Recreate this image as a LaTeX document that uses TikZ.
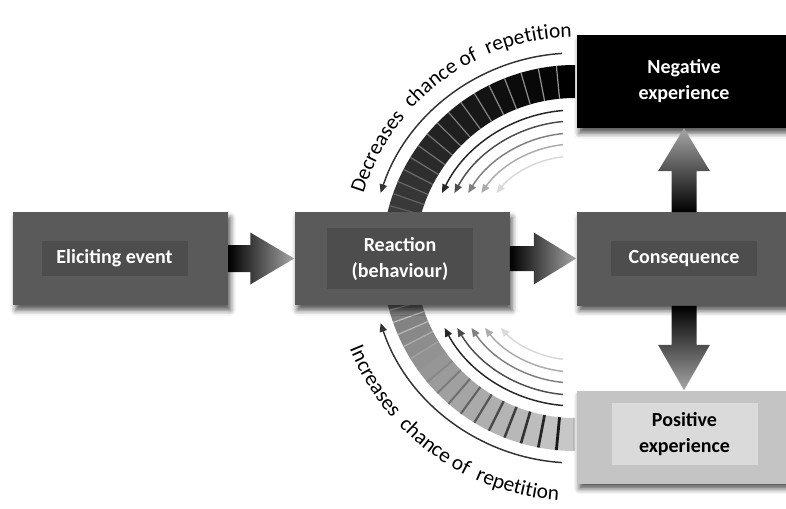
\documentclass[tikz,border=0pt]{standalone}
\usepackage{fontspec}
\setmainfont{Carlito}
\usetikzlibrary{calc,shadows.blur,decorations.text,arrows.meta}
\definecolor{boxgray}{HTML}{5A5A5A}
\definecolor{lblgray}{HTML}{4D4D4D}
\definecolor{posbox}{HTML}{C4C4C4}
\definecolor{poslbl}{HTML}{DADADA}
\newcommand{\txtfont}{\fontsize{16}{19}\selectfont}
\begin{document}
\begin{tikzpicture}[x=0.75pt,y=0.75pt,
  box/.style={draw=none, minimum width=161.25pt, minimum height=69.75pt, inner sep=0pt,
    blur shadow={shadow xshift=2pt, shadow yshift=-4pt, shadow blur radius=4pt, shadow opacity=65}},
  lbl/.style={draw=none, minimum width=109.5pt, inner sep=0pt, align=center,
    font=\fontsize{15}{19.5}\selectfont\bfseries},
  arcarrow/.style={line width=1.1pt, -{Triangle[length=6.5pt,width=5.5pt]}},
  harrow/.style={left color=black, right color=black!35},
]
\useasboundingbox (0,0) rectangle (786,508);
\coordinate (ctr) at (575,250);

% ---- top band (dark) ----
\foreach \i in {0,...,17} {
  \pgfmathsetmacro\a{90+5.6*\i-0.06*\i*\i}
  \pgfmathsetmacro\b{90+5.6*(\i+1)-0.06*(\i+1)*(\i+1)}
  \pgfmathsetmacro\k{100-\i*1.5}
  \fill[black!\k] ($(ctr)+(\a:160)$) arc[start angle=\a,end angle=\b,radius=160]
     -- ($(ctr)+(\b:193)$) arc[start angle=\b,end angle=\a,radius=193] -- cycle;
}
\foreach \i in {1,...,17} {
  \pgfmathsetmacro\a{90+5.6*\i-0.06*\i*\i}
  \pgfmathsetmacro\k{40+\i*1.4}
  \draw[black!\k, line width=0.9pt] ($(ctr)+(\a:160)$) -- ($(ctr)+(\a:193)$);
}

% ---- bottom band (light) ----
\foreach \i in {0,...,17} {
  \pgfmathsetmacro\a{270-5.6*\i+0.06*\i*\i}
  \pgfmathsetmacro\b{270-5.6*(\i+1)+0.06*(\i+1)*(\i+1)}
  \pgfmathsetmacro\k{22+\i*1.9}
  \fill[black!\k] ($(ctr)+(\a:160)$) arc[start angle=\a,end angle=\b,radius=160]
     -- ($(ctr)+(\b:193)$) arc[start angle=\b,end angle=\a,radius=193] -- cycle;
}
\foreach \i in {1,...,17} {
  \pgfmathsetmacro\a{270-5.6*\i+0.06*\i*\i}
  \pgfmathsetmacro\k{95-\i*4.8}
  \pgfmathsetmacro\w{2.2-\i*0.09}
  \draw[black!\k, line width=\w pt] ($(ctr)+(\a:160)$) -- ($(ctr)+(\a:193)$);
}

% ---- outer arrows ----
\draw[arcarrow, black!80] ($(ctr)+(93.6:205)$) arc[start angle=93.6, end angle=161.5, radius=205];
\draw[arcarrow, black!80] ($(ctr)+(266.4:205)$) arc[start angle=266.4, end angle=198.5, radius=205];

% ---- inner arrows ----
\foreach \r/\c in {148/85, 137/70, 125/50, 114/33, 102/15} {
  \pgfmathsetmacro\sa{90+asin(12/\r)}
  \pgfmathsetmacro\ea{180-asin(65/\r)}
  \draw[arcarrow, black!\c] ($(ctr)+(\sa:\r)$) arc[start angle=\sa, end angle=\ea, radius=\r];
  \pgfmathsetmacro\sb{270-asin(12/\r)}
  \pgfmathsetmacro\eb{180+asin(70/\r)}
  \draw[arcarrow, black!\c] ($(ctr)+(\sb:\r)$) arc[start angle=\sb, end angle=\eb, radius=\r];
}

% ---- curved texts ----
\path[decorate, decoration={text along path, text align=center,
  text={|\txtfont|Decreases{\kern4pt} chance of{\kern4pt} repetition}}]
  ($(ctr)+(168:221)$) arc[start angle=168, end angle=86, radius=221];
\path[decorate, decoration={text along path, text align=center,
  text={|\txtfont|Increases{\kern4pt} chance of{\kern4pt} repetition}}]
  ($(ctr)+(193:243)$) arc[start angle=193, end angle=275, radius=243];

% ---- boxes ----
\node[box, fill=boxgray] (elicit) at (120.5,249.5) {};
\node[lbl, fill=lblgray, text=white, minimum height=26.25pt] (elicitlbl) at (114.5,249.5) {Eliciting event};

\node[box, fill=boxgray] (reaction) at (402,249.5) {};
\node[lbl, fill=lblgray, text=white, minimum height=45.75pt] (reactionlbl) at (400,249.5) {Reaction\\(behaviour)};

\node[box, fill=boxgray] (conseq) at (684,249) {};
\node[lbl, fill=lblgray, text=white, minimum height=26.25pt] (conseqlbl) at (684,249.5) {Consequence};

\node[box, fill=black] (neg) at (684,426.5) {};
\node[lbl, text=white] (neglbl) at (684,427) {Negative\\experience};

\node[box, fill=posbox] (pos) at (684,71) {};
\node[lbl, fill=poslbl, text=black, minimum height=46.5pt] (poslbl) at (684.5,74) {Positive\\experience};

% ---- block arrows ----
\shade[harrow] ($(elicit.east)+(0,13.5)$) -- ($(elicit.east)+(22,13.5)$) -- ($(elicit.east)+(22,26)$)
  -- (reaction.west) -- ($(elicit.east)+(22,-26)$) -- ($(elicit.east)+(22,-13.5)$)
  -- ($(elicit.east)+(0,-13.5)$) -- cycle;
\shade[harrow] ($(reaction.east)+(0,12.5)$) -- ($(reaction.east)+(24,12.5)$) -- ($(reaction.east)+(24,26)$)
  -- ($(conseq.west)+(0,0.5)$) -- ($(reaction.east)+(24,-26)$) -- ($(reaction.east)+(24,-12.5)$)
  -- ($(reaction.east)+(0,-12.5)$) -- cycle;
\shade[bottom color=black, top color=black!35] ($(conseq.north)+(-12.5,0)$) -- ($(conseq.north)+(-12.5,41)$)
  -- ($(conseq.north)+(-26,41)$) -- (neg.south) -- ($(conseq.north)+(26,41)$)
  -- ($(conseq.north)+(12.5,41)$) -- ($(conseq.north)+(12.5,0)$) -- cycle;
\shade[top color=black, bottom color=black!35] ($(conseq.south)+(-12.5,0)$) -- ($(conseq.south)+(-12.5,-39)$)
  -- ($(conseq.south)+(-26,-39)$) -- (pos.north) -- ($(conseq.south)+(26,-39)$)
  -- ($(conseq.south)+(12.5,-39)$) -- ($(conseq.south)+(12.5,0)$) -- cycle;
\end{tikzpicture}
\end{document}
